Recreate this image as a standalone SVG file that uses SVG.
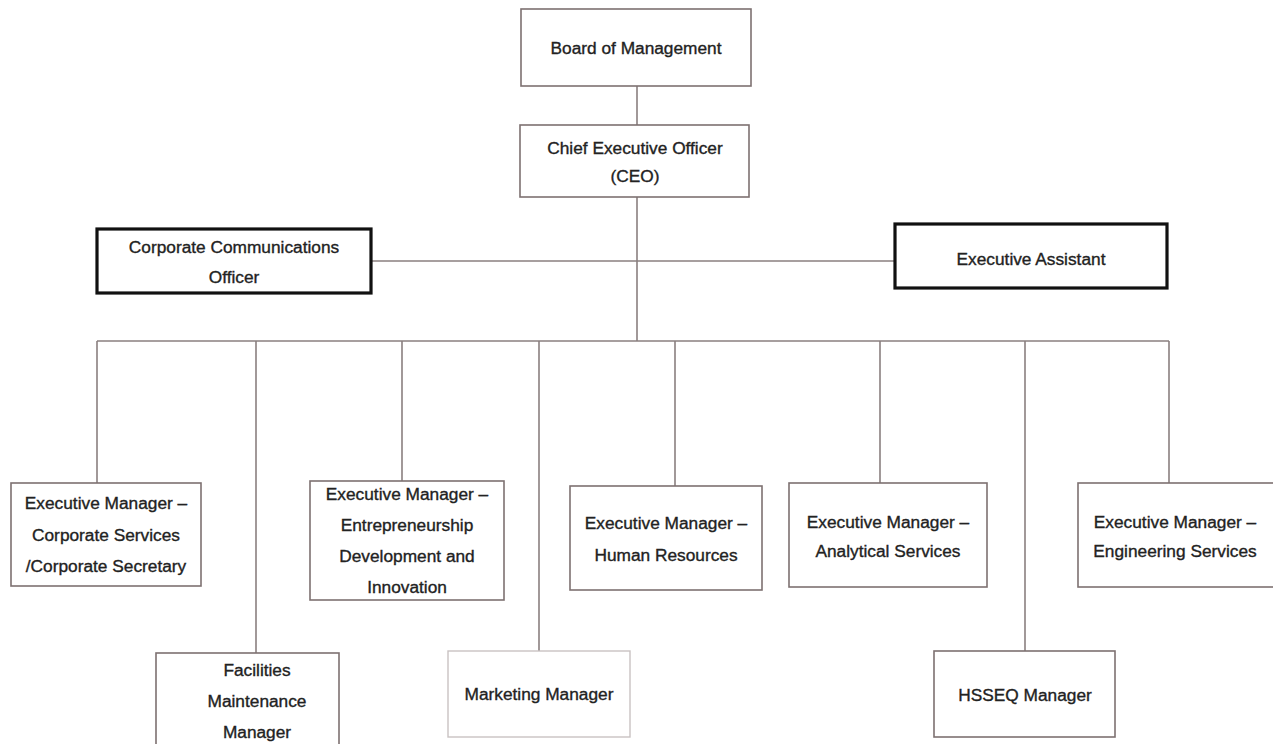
<svg xmlns="http://www.w3.org/2000/svg" width="1273" height="744" viewBox="0 0 1273 744">
<style>
.box{fill:#fff;stroke:#7d7171;stroke-width:1.6}
.thick{fill:#fff;stroke:#111;stroke-width:3.2}
.light{fill:#fff;stroke:#c9c2c2;stroke-width:1.4}
.con{fill:none;stroke:#8a7f7f;stroke-width:1.6}
text{font-family:"Liberation Sans",Arial,sans-serif;font-size:17.3px;fill:#222;stroke:#222;stroke-width:0.35;text-anchor:middle;dominant-baseline:central}
</style>
<rect width="1273" height="744" fill="#fff"/>
<g id="connectors">
<line class="con" x1="637" y1="86" x2="637" y2="125"/>
<line class="con" x1="637" y1="197" x2="637" y2="341"/>
<line class="con" x1="371" y1="261" x2="895" y2="261"/>
<line class="con" x1="97" y1="341" x2="1169" y2="341"/>
<line class="con" x1="97" y1="341" x2="97" y2="483"/>
<line class="con" x1="256" y1="341" x2="256" y2="653"/>
<line class="con" x1="402" y1="341" x2="402" y2="481"/>
<line class="con" x1="539" y1="341" x2="539" y2="651"/>
<line class="con" x1="675" y1="341" x2="675" y2="486"/>
<line class="con" x1="880" y1="341" x2="880" y2="483"/>
<line class="con" x1="1025" y1="341" x2="1025" y2="651"/>
<line class="con" x1="1169" y1="341" x2="1169" y2="483"/>
</g>
<g id="board"><rect class="box" x="521" y="9" width="230" height="77"/><text x="636" y="48">Board of Management</text></g>
<g id="ceo"><rect class="box" x="520" y="125" width="229" height="72"/><text x="635" y="148">Chief Executive Officer</text><text x="635" y="176">(CEO)</text></g>
<g id="cco"><rect class="thick" x="97" y="229" width="274" height="64"/><text x="234" y="247">Corporate Communications</text><text x="234" y="277">Officer</text></g>
<g id="ea"><rect class="thick" x="895" y="224" width="272" height="64"/><text x="1031" y="259">Executive Assistant</text></g>
<g id="corpserv"><rect class="box" x="11" y="483" width="190" height="103"/><text x="106" y="503">Executive Manager –</text><text x="106" y="535">Corporate Services</text><text x="106" y="566">/Corporate Secretary</text></g>
<g id="facilities"><rect class="box" x="156" y="653" width="183" height="95"/><text x="257" y="670">Facilities</text><text x="257" y="701">Maintenance</text><text x="257" y="732">Manager</text></g>
<g id="entre"><rect class="box" x="310" y="481" width="194" height="119"/><text x="407" y="494">Executive Manager –</text><text x="407" y="525">Entrepreneurship</text><text x="407" y="556">Development and</text><text x="407" y="587">Innovation</text></g>
<g id="marketing"><rect class="light" x="448" y="651" width="182" height="86"/><text x="539" y="694">Marketing Manager</text></g>
<g id="hr"><rect class="box" x="570" y="486" width="192" height="104"/><text x="666" y="523">Executive Manager –</text><text x="666" y="555">Human Resources</text></g>
<g id="analytical"><rect class="box" x="789" y="483" width="198" height="104"/><text x="888" y="522">Executive Manager –</text><text x="888" y="551">Analytical Services</text></g>
<g id="hsseq"><rect class="box" x="934" y="651" width="181" height="86"/><text x="1025" y="695">HSSEQ Manager</text></g>
<g id="engineering"><rect class="box" x="1078" y="483" width="200" height="104"/><text x="1175" y="522">Executive Manager –</text><text x="1175" y="551">Engineering Services</text></g>
</svg>
